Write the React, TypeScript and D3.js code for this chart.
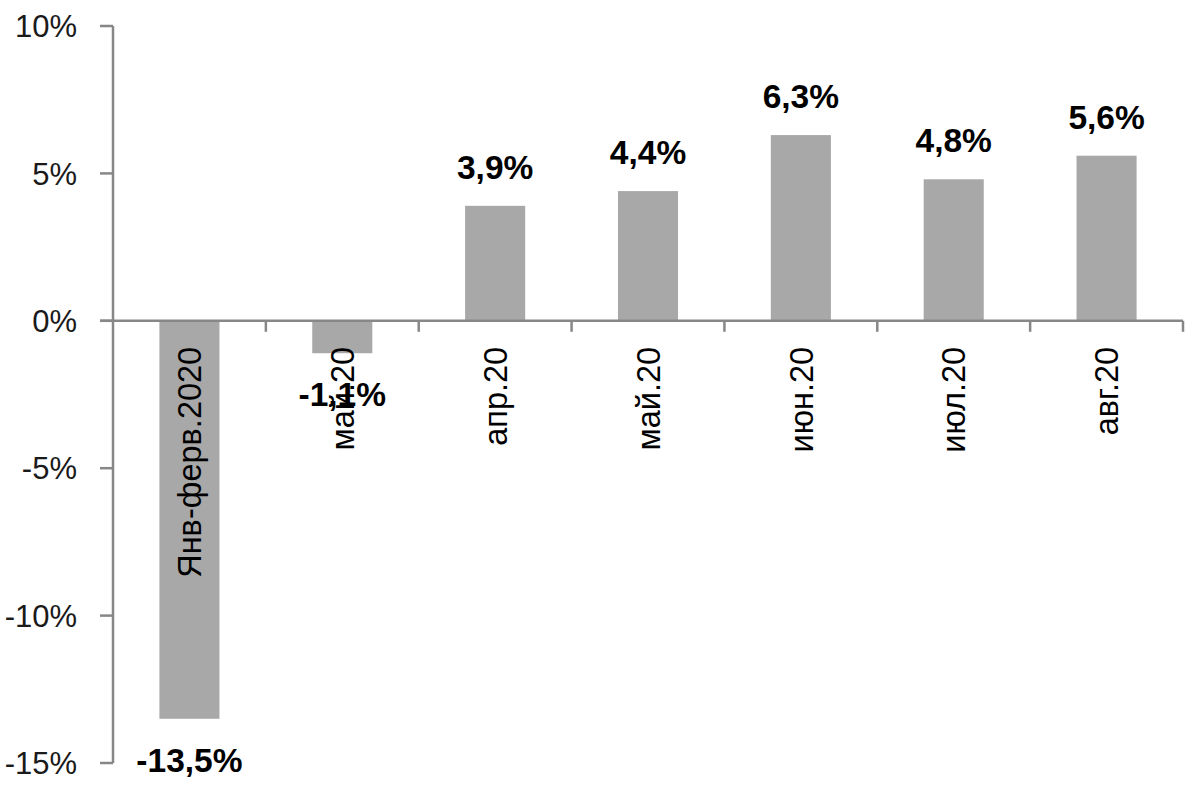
import { useEffect, useRef } from "react";
import * as d3 from "d3";

const categories = [
  "Янв-ферв.2020",
  "май.20",
  "апр.20",
  "май.20",
  "июн.20",
  "июл.20",
  "авг.20",
];
const values = [-13.5, -1.1, 3.9, 4.4, 6.3, 4.8, 5.6];
const yTicks = [-15, -10, -5, 0, 5, 10];

const WIDTH = 1200;
const HEIGHT = 791;
const MARGIN = { top: 26, right: 17, bottom: 28, left: 113 };
const AXIS_COLOR = "#878787";
const BAR_COLOR = "#a8a8a8";
const FONT = "'Liberation Sans', Arial, sans-serif";

const fmt = (v: number) => `${v.toFixed(1).replace(".", ",")}%`;

export default function App() {
  const svgRef = useRef<SVGSVGElement>(null);

  useEffect(() => {
    if (!svgRef.current) return;
    const svg = d3.select(svgRef.current);
    svg.selectAll("*").remove();

    const innerW = WIDTH - MARGIN.left - MARGIN.right;

    const x = d3
      .scaleBand()
      .domain(categories.map((_, i) => String(i)))
      .range([MARGIN.left, MARGIN.left + innerW])
      .paddingInner(0.607)
      .paddingOuter(0.3035);

    const y = d3
      .scaleLinear()
      .domain([-15, 10])
      .range([HEIGHT - MARGIN.bottom, MARGIN.top]);

    const step = innerW / categories.length;

    // bars
    svg
      .append("g")
      .selectAll("rect")
      .data(values)
      .join("rect")
      .attr("x", (_, i) => x(String(i)) ?? 0)
      .attr("width", x.bandwidth())
      .attr("y", (d) => y(Math.max(0, d)))
      .attr("height", (d) => Math.abs(y(d) - y(0)))
      .attr("fill", BAR_COLOR);

    // y axis
    const yAxis = svg.append("g");
    yAxis
      .append("line")
      .attr("x1", MARGIN.left)
      .attr("x2", MARGIN.left)
      .attr("y1", y(10))
      .attr("y2", y(-15))
      .attr("stroke", AXIS_COLOR)
      .attr("stroke-width", 2.5);
    yAxis
      .selectAll("line.tick")
      .data(yTicks)
      .join("line")
      .attr("class", "tick")
      .attr("x1", MARGIN.left - 13)
      .attr("x2", MARGIN.left)
      .attr("y1", (d) => y(d))
      .attr("y2", (d) => y(d))
      .attr("stroke", AXIS_COLOR)
      .attr("stroke-width", 2.5);
    yAxis
      .selectAll("text")
      .data(yTicks)
      .join("text")
      .attr("x", 77)
      .attr("y", (d) => y(d))
      .attr("dy", "0.36em")
      .attr("text-anchor", "end")
      .attr("font-family", FONT)
      .attr("font-size", 31)
      .attr("fill", "#1a1a1a")
      .text((d) => `${d}%`);

    // zero line with category ticks
    const xAxis = svg.append("g");
    xAxis
      .append("line")
      .attr("x1", MARGIN.left - 13)
      .attr("x2", MARGIN.left + innerW)
      .attr("y1", y(0))
      .attr("y2", y(0))
      .attr("stroke", AXIS_COLOR)
      .attr("stroke-width", 2.5);
    xAxis
      .selectAll("line.ctick")
      .data(categories.map((_, i) => i + 1))
      .join("line")
      .attr("class", "ctick")
      .attr("x1", (d) => MARGIN.left + d * step)
      .attr("x2", (d) => MARGIN.left + d * step)
      .attr("y1", y(0))
      .attr("y2", y(0) + 11)
      .attr("stroke", AXIS_COLOR)
      .attr("stroke-width", 2.5);

    // category labels, rotated
    xAxis
      .selectAll("text")
      .data(categories)
      .join("text")
      .attr(
        "transform",
        (_, i) =>
          `translate(${(x(String(i)) ?? 0) + x.bandwidth() / 2},${y(0) + 26}) rotate(-90)`
      )
      .attr("dy", "0.36em")
      .attr("text-anchor", "end")
      .attr("font-family", FONT)
      .attr("font-size", 32.5)
      .attr("fill", "#000")
      .text((d) => d);

    // value labels
    svg
      .append("g")
      .selectAll("text")
      .data(values)
      .join("text")
      .attr("x", (_, i) => (x(String(i)) ?? 0) + x.bandwidth() / 2)
      .attr("y", (d) => (d >= 0 ? y(d) - 27 : y(d) + 53))
      .attr("text-anchor", "middle")
      .attr("font-family", FONT)
      .attr("font-weight", "bold")
      .attr("font-size", 33.5)
      .attr("fill", "#000")
      .text((d) => fmt(d));
  }, []);

  return (
    <svg
      ref={svgRef}
      width={WIDTH}
      height={HEIGHT}
      style={{ position: "absolute", left: 0, top: 0, background: "#fff" }}
    />
  );
}
